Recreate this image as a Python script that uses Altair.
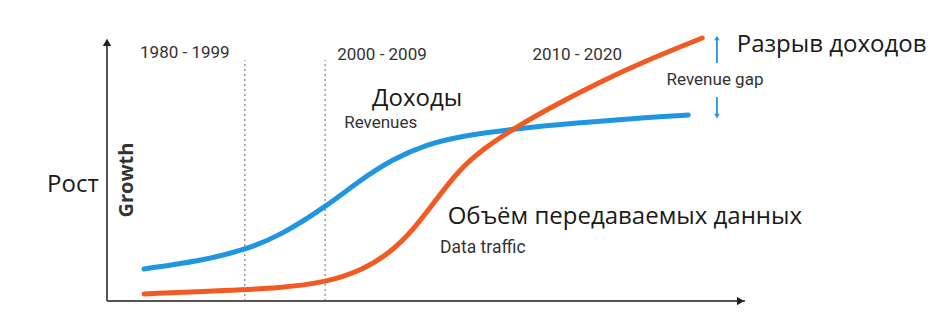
import altair as alt
import pandas as pd

# ---- data (time in 0..100 units along x-axis, growth in 0..100 units) ----
rev_t = [5.8, 14.6, 21.6, 27.1, 34.2, 39.7, 44.8, 50.2, 55.3, 63.2, 74.1, 85.1, 91.1]
rev_g = [12.2, 15.2, 19.4, 24.8, 35.7, 46.0, 54.0, 59.6, 62.6, 65.3, 67.8, 69.9, 70.7]

traffic_t = [5.8, 19.3, 27.1, 34.2, 40.1, 44.4, 48.0, 51.5, 55.0, 59.0, 64.3, 70.0, 77.3, 85.1, 93.3]
traffic_g = [2.7, 4.0, 5.0, 7.0, 11.8, 18.4, 27.0, 38.2, 49.4, 58.0, 66.4, 74.2, 83.4, 92.0, 100.0]

period_labels = ["1980 - 1999", "2000 - 2009", "2010 - 2020"]
period_t = [12.2, 43.1, 73.7]
period_g = [94.3, 93.5, 93.5]

divider_t = [21.6, 34.2]
divider_top = [91.6, 91.6]

BLUE = "#2196e0"
ORANGE = "#f15a22"
AXIS = "#555555"
EN_FONT = "Roboto"
RU_FONT = "Open Sans"

X = alt.Scale(domain=[0, 100], range=[99, 737])
Y = alt.Scale(domain=[0, 100], range=[293, 30])


def enc(**kw):
    return dict(x=alt.X("t:Q", scale=X, axis=None), y=alt.Y("g:Q", scale=Y, axis=None), **kw)


rev_df = pd.DataFrame({"t": rev_t, "g": rev_g})
traffic_df = pd.DataFrame({"t": traffic_t, "g": traffic_g})

# axes
axes_df = pd.DataFrame({"t": [0, 0], "g": [0, 0], "t2": [0, 100], "g2": [99, 0]})
axes = alt.Chart(axes_df).mark_rule(color=AXIS, strokeWidth=2).encode(
    x=alt.X("t:Q", scale=X, axis=None), y=alt.Y("g:Q", scale=Y, axis=None),
    x2="t2:Q", y2="g2:Q")

heads_df = pd.DataFrame({"t": [0, 99.3], "g": [98.3, 0], "shape": ["triangle-up", "triangle-right"]})
heads = alt.Chart(heads_df).mark_point(filled=True, color="#222222", size=70, opacity=1).encode(
    **enc(shape=alt.Shape("shape:N", scale=None)))

# dotted dividers
div_df = pd.DataFrame({"t": divider_t, "g": [0, 0], "g2": divider_top})
dividers = alt.Chart(div_df).mark_rule(color="#9a9a9a", strokeWidth=1.5, strokeDash=[2, 3]).encode(
    x=alt.X("t:Q", scale=X, axis=None), y=alt.Y("g:Q", scale=Y, axis=None), y2="g2:Q")

rev_line = alt.Chart(rev_df).mark_line(color=BLUE, strokeWidth=5, interpolate="basis", strokeCap="round").encode(**enc())
traffic_line = alt.Chart(traffic_df).mark_line(color=ORANGE, strokeWidth=5, interpolate="basis", strokeCap="round").encode(**enc())

# revenue gap arrows
gap_df = pd.DataFrame({"t": [95.6, 95.6], "g": [90.5, 77.6], "g2": [99.5, 71.0]})
gap_rules = alt.Chart(gap_df).mark_rule(color=BLUE, strokeWidth=1.8).encode(
    x=alt.X("t:Q", scale=X, axis=None), y=alt.Y("g:Q", scale=Y, axis=None), y2="g2:Q")
gap_heads_df = pd.DataFrame({"t": [95.6, 95.6], "g": [100.0, 70.3], "shape": ["triangle-up", "triangle-down"]})
gap_heads = alt.Chart(gap_heads_df).mark_point(filled=True, color=BLUE, size=30, opacity=1).encode(
    **enc(shape=alt.Shape("shape:N", scale=None)))

# period labels
period_df = pd.DataFrame({"t": period_t, "g": period_g, "label": period_labels})
periods = alt.Chart(period_df).mark_text(
    font=EN_FONT, fontSize=17, color="#333333",
    align="center", baseline="middle").encode(**enc(text="label:N"))

# english labels
en_df = pd.DataFrame({
    "t": [42.9, 52.2, 95.3],
    "g": [67.8, 20.2, 84.0],
    "label": ["Revenues", "Data traffic", "Revenue gap"],
    "al": ["center", "left", "center"],
})
en_center = alt.Chart(en_df[en_df.al == "center"]).mark_text(
    font=EN_FONT, fontSize=17, color="#333333",
    align="center", baseline="middle").encode(**enc(text="label:N"))
en_left = alt.Chart(en_df[en_df.al == "left"]).mark_text(
    font=EN_FONT, fontSize=17.5, color="#333333",
    align="left", baseline="middle").encode(**enc(text="label:N"))

# russian labels
ru_df = pd.DataFrame({
    "t": [48.6, 53.4, 98.7, -9.4],
    "g": [76.8, 31.9, 97.3, 44.1],
    "label": ["Доходы", "Объём передаваемых данных", "Разрыв доходов", "Рост"],
    "al": ["center", "left", "left", "left"],
})
ru_center = alt.Chart(ru_df[ru_df.al == "center"]).mark_text(
    font=RU_FONT, fontSize=24, color="#1a1a1a", align="center", baseline="middle").encode(**enc(text="label:N"))
ru_left = alt.Chart(ru_df[ru_df.al == "left"]).mark_text(
    font=RU_FONT, fontSize=24, color="#1a1a1a", align="left", baseline="middle").encode(**enc(text="label:N"))

growth_df = pd.DataFrame({"t": [3.1], "g": [46.0], "label": ["Growth"]})
growth = alt.Chart(growth_df).mark_text(
    font=RU_FONT, fontSize=20, fontWeight="bold", color="#333333", angle=270,
    align="center", baseline="middle").encode(**enc(text="label:N"))

chart = alt.layer(
    dividers, axes, heads, rev_line, traffic_line, gap_rules, gap_heads,
    periods, en_center, en_left, ru_center, ru_left, growth
).properties(
    width=929, height=300, padding=0,
    autosize=alt.AutoSizeParams(type="none"),
    background="white",
).configure_view(stroke=None)

chart.save("out.html", embed_options={"renderer": "svg", "actions": False})
